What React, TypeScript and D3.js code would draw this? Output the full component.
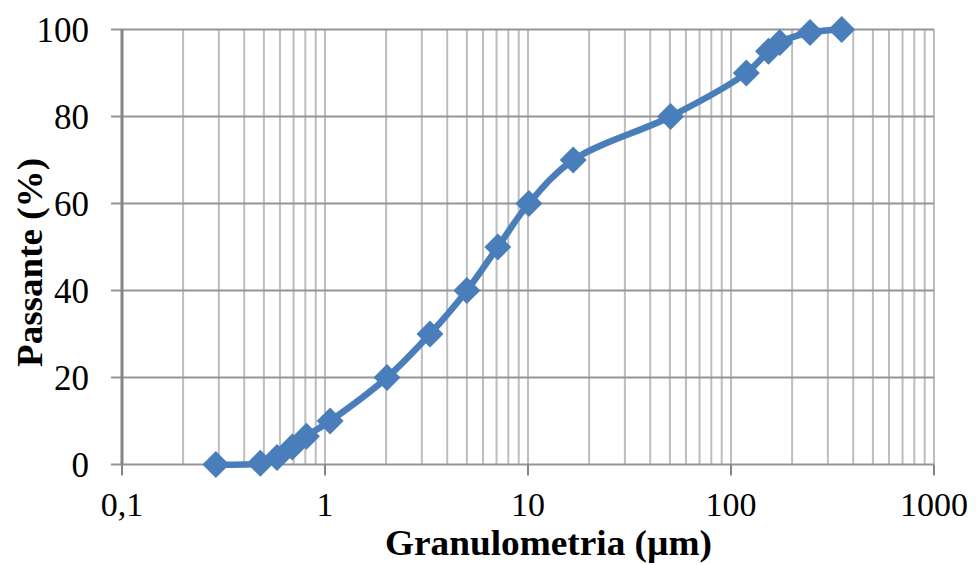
import React from "react";
import * as d3 from "d3";

// Particle size distribution (cumulative passing)
const diameters = [0.29, 0.48, 0.58, 0.69, 0.81, 1.06, 2.02, 3.29, 5.0, 7.1, 10.1, 16.7, 50.4, 119, 153, 174, 245, 351];
const passing = [0, 0.3, 1.6, 4, 6.5, 10, 20, 30, 40, 50, 60, 70, 80, 90, 95, 97, 99.3, 100];
const xTickValues = [0.1, 1, 10, 100, 1000];
const xTickLabels = ["0,1", "1", "10", "100", "1000"];
const yTickValues = [0, 20, 40, 60, 80, 100];

const W = 978;
const H = 565;
const margin = { left: 122, right: 44, top: 29.5, bottom: 100.5 };

export default function App() {
  const x = d3.scaleLog().domain([0.1, 1000]).range([margin.left, W - margin.right]);
  const y = d3.scaleLinear().domain([0, 100]).range([H - margin.bottom, margin.top]);

  const minor: number[] = [];
  for (let e = -1; e < 3; e++) {
    for (let k = 2; k <= 9; k++) minor.push(k * Math.pow(10, e));
  }

  const pts = diameters.map((d, i) => [x(d), y(passing[i])] as [number, number]);
  const line = d3.line().curve(d3.curveCatmullRom.alpha(0.5))(pts) as string;

  const font = "'Liberation Serif', 'Times New Roman', serif";
  const blue = "#4a7ebb";
  const r = 13.5;

  return (
    <svg width={W} height={H} style={{ position: "absolute", left: 0, top: 0 }}>
      <rect width={W} height={H} fill="#fff" />
      {/* minor vertical grid */}
      {minor.map((v) => (
        <line key={"m" + v} x1={x(v)} x2={x(v)} y1={y(0)} y2={y(100)} stroke="#bdbdbd" strokeWidth={2} />
      ))}
      {/* decade vertical grid */}
      {xTickValues.slice(1).map((v) => (
        <line key={"d" + v} x1={x(v)} x2={x(v)} y1={y(0)} y2={y(100)} stroke="#bdbdbd" strokeWidth={2} />
      ))}
      {/* horizontal grid with outward ticks */}
      {yTickValues.map((v) => (
        <line key={"h" + v} x1={margin.left - 11} x2={x(1000)} y1={y(v)} y2={y(v)} stroke="#959595" strokeWidth={2} />
      ))}
      {/* y axis */}
      <line x1={x(0.1)} x2={x(0.1)} y1={y(0)} y2={y(100)} stroke="#858585" strokeWidth={3} />
      {/* x axis ticks */}
      {xTickValues.map((v) => (
        <line key={"t" + v} x1={x(v)} x2={x(v)} y1={y(0)} y2={y(0) + 11} stroke="#858585" strokeWidth={2} />
      ))}
      {/* y tick labels */}
      {yTickValues.map((v) => (
        <text key={"yl" + v} x={89} y={y(v)} dy="0.35em" textAnchor="end" fontFamily={font} fontSize={35} fill="#000">
          {v}
        </text>
      ))}
      {/* x tick labels */}
      {xTickValues.map((v, i) => (
        <text key={"xl" + v} x={x(v)} y={516} textAnchor="middle" fontFamily={font} fontSize={34} fill="#000">
          {xTickLabels[i]}
        </text>
      ))}
      {/* series */}
      <path d={line} fill="none" stroke={blue} strokeWidth={6.5} strokeLinejoin="round" />
      {pts.map(([px, py], i) => (
        <path key={"p" + i} d={`M${px},${py - r}L${px + r},${py}L${px},${py + r}L${px - r},${py}Z`} fill={blue} />
      ))}
      {/* axis titles */}
      <text
        x={548.5}
        y={555}
        textAnchor="middle"
        fontFamily={font}
        fontSize={35}
        fontWeight="bold"
        fill="#000"
        textLength={327}
        lengthAdjust="spacingAndGlyphs"
      >
        Granulometria (µm)
      </text>
      <text
        transform={`translate(42,262.5) rotate(-90)`}
        textAnchor="middle"
        fontFamily={font}
        fontSize={36}
        fontWeight="bold"
        fill="#000"
        textLength={209}
        lengthAdjust="spacingAndGlyphs"
      >
        Passante (%)
      </text>
    </svg>
  );
}
